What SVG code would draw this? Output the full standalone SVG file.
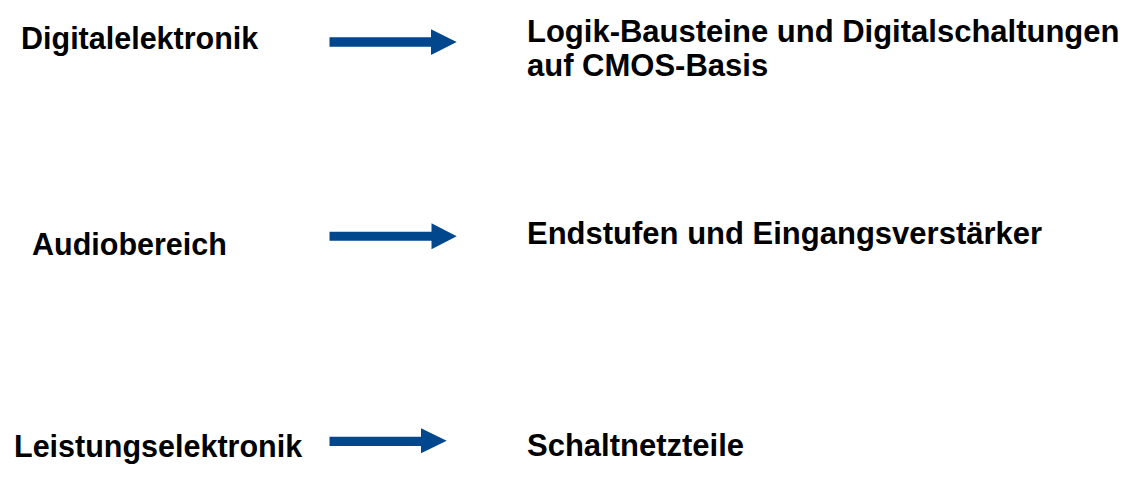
<svg xmlns="http://www.w3.org/2000/svg" width="1146" height="487" viewBox="0 0 1146 487">
<style>
.t{font-family:"Liberation Sans",Arial,sans-serif;font-weight:bold;font-size:30.5px;fill:#000}
.r{font-size:31px}
.a{fill:#00478D}
</style>
<rect width="1146" height="487" fill="#fff"/>
<g id="connectors">
<polygon class="a" points="329.5,37.3 431,37.3 431,29.3 456.7,42 431,55 431,46.7 329.5,46.7"/>
<polygon class="a" points="329.5,231.7 431.5,231.7 431.5,223.3 456.7,236.3 431.5,249.3 431.5,240.7 329.5,240.7"/>
<polygon class="a" points="329.5,436.7 421,436.7 421,428.3 446.7,440.8 421,453.3 421,446 329.5,446"/>
</g>
<g id="digitalelektronik"><text class="t" x="21" y="48.5">Digitalelektronik</text></g>
<g id="audiobereich"><text class="t" x="32" y="255">Audiobereich</text></g>
<g id="leistungselektronik"><text class="t" x="14" y="457">Leistungselektronik</text></g>
<g id="logik"><text class="t r" x="527" y="41.5">Logik-Bausteine und Digitalschaltungen</text><text class="t r" x="527" y="76">auf CMOS-Basis</text></g>
<g id="endstufen"><text class="t r" x="527" y="244">Endstufen und Eingangsverstärker</text></g>
<g id="schaltnetzteile"><text class="t r" x="527" y="456">Schaltnetzteile</text></g>
</svg>
